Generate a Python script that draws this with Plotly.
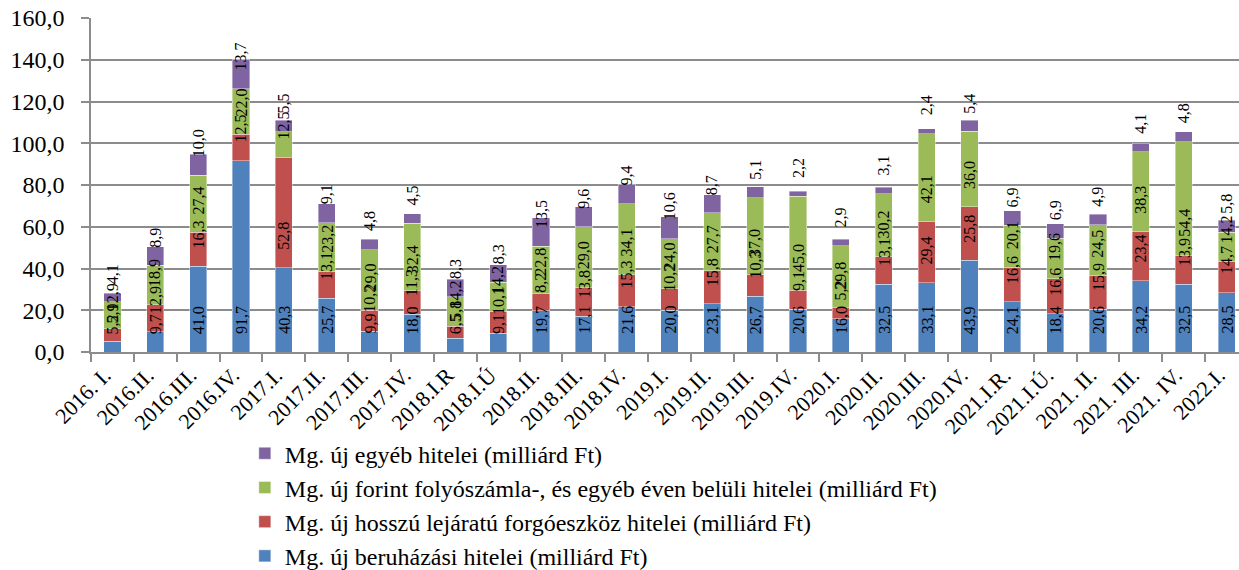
import plotly.graph_objects as go

categories = ["2016. I.", "2016.II.", "2016.III.", "2016.IV.", "2017.I.", "2017.II.",
              "2017.III.", "2017.IV.", "2018.I.R", "2018.I.Ú", "2018.II.", "2018.III.",
              "2018.IV.", "2019.I.", "2019.II.", "2019.III.", "2019.IV.", "2020.I.",
              "2020.II.", "2020.III.", "2020.IV.", "2021.I.R.", "2021.I.Ú.", "2021. II.",
              "2021. III.", "2021. IV.", "2022.I."]

beruhazasi = [5.2, 9.7, 41.0, 91.7, 40.3, 25.7, 9.9, 18.0, 6.5, 9.1, 19.7, 17.1, 21.6, 20.0,
              23.1, 26.7, 20.6, 16.0, 32.5, 33.1, 43.9, 24.1, 18.4, 20.6, 34.2, 32.5, 28.5]
forgoeszkoz = [5.9, 12.9, 16.3, 12.5, 52.8, 13.1, 10.2, 11.3, 5.8, 10.1, 8.2, 13.8, 15.3, 10.2,
               15.8, 10.3, 9.1, 5.2, 13.1, 29.4, 25.8, 16.6, 16.6, 15.9, 23.4, 13.9, 14.7]
folyoszamla = [12.9, 18.9, 27.4, 22.0, 12.5, 23.2, 29.0, 32.4, 14.2, 14.2, 22.8, 29.0, 34.1, 24.0,
               27.7, 37.0, 45.0, 29.8, 30.2, 42.1, 36.0, 20.1, 19.6, 24.5, 38.3, 54.4, 14.2]
egyeb = [4.1, 8.9, 10.0, 13.7, 5.5, 9.1, 4.8, 4.5, 8.3, 8.3, 13.5, 9.6, 9.4, 10.6,
         8.7, 5.1, 2.2, 2.9, 3.1, 2.4, 5.4, 6.9, 6.9, 4.9, 4.1, 4.8, 5.8]

series = [
    ("Mg. új beruházási hitelei (milliárd Ft)", beruhazasi, "#4F81BD"),
    ("Mg. új hosszú lejáratú forgóeszköz hitelei (milliárd Ft)", forgoeszkoz, "#C0504D"),
    ("Mg. új forint folyószámla-, és egyéb éven belüli hitelei (milliárd Ft)", folyoszamla, "#9BBB59"),
    ("Mg. új egyéb hitelei (milliárd Ft)", egyeb, "#8064A2"),
]

FONT = "Liberation Serif"

fig = go.Figure()
annotations = []
base = [0.0] * len(categories)
for name, vals, color in series:
    fig.add_trace(go.Bar(
        x=categories, y=vals, name=name,
        marker=dict(color=color, line=dict(color="rgba(255,255,255,0.5)", width=0.8)),
        hoverinfo="skip",
    ))
    for i, (c, v) in enumerate(zip(categories, vals)):
        annotations.append(dict(
            x=c, y=base[i], xref="x", yref="y",
            text=f"{v:.1f}".replace(".", ","),
            textangle=-90, showarrow=False,
            xanchor="center", yanchor="bottom", yshift=16,
            font=dict(family=FONT, size=16, color="black"),
        ))
        base[i] += v

fig.update_layout(
    barmode="stack",
    bargap=0.6,
    width=1239, height=570,
    margin=dict(l=91, r=0, t=18, b=218, autoexpand=False),
    paper_bgcolor="white", plot_bgcolor="white",
    separators=", ",
    font=dict(family=FONT, color="black"),
    annotations=annotations,
    legend=dict(
        traceorder="reversed",
        x=0.134, y=-0.237, xanchor="left", yanchor="top",
        font=dict(family=FONT, size=24, color="black"),
        tracegroupgap=0, itemwidth=30,
        bgcolor="rgba(0,0,0,0)",
    ),
    showlegend=True,
)

fig.update_yaxes(
    range=[0, 160], dtick=20, tickformat=".1f",
    showgrid=True, gridcolor="#8C8C8C", gridwidth=1.5,
    showline=True, linecolor="#8C8C8C", linewidth=1.5,
    ticks="outside", ticklen=8, tickcolor="#8C8C8C", tickwidth=1.5,
    tickfont=dict(family=FONT, size=24, color="black"),
    ticklabelstandoff=12,
    zeroline=False, automargin=False,
)
fig.update_xaxes(
    type="category", range=[-0.5, 26.29],
    tickangle=-45, tickson="boundaries",
    showline=True, linecolor="#8C8C8C", linewidth=1.5,
    ticks="outside", ticklen=8, tickcolor="#8C8C8C", tickwidth=1.5,
    tickfont=dict(family=FONT, size=22, color="black"),
    ticklabelshift=-8,
    showgrid=False, automargin=False,
)

fig.write_html("out.html", config={"displayModeBar": False},
               post_script="document.body.style.margin='0px';")
